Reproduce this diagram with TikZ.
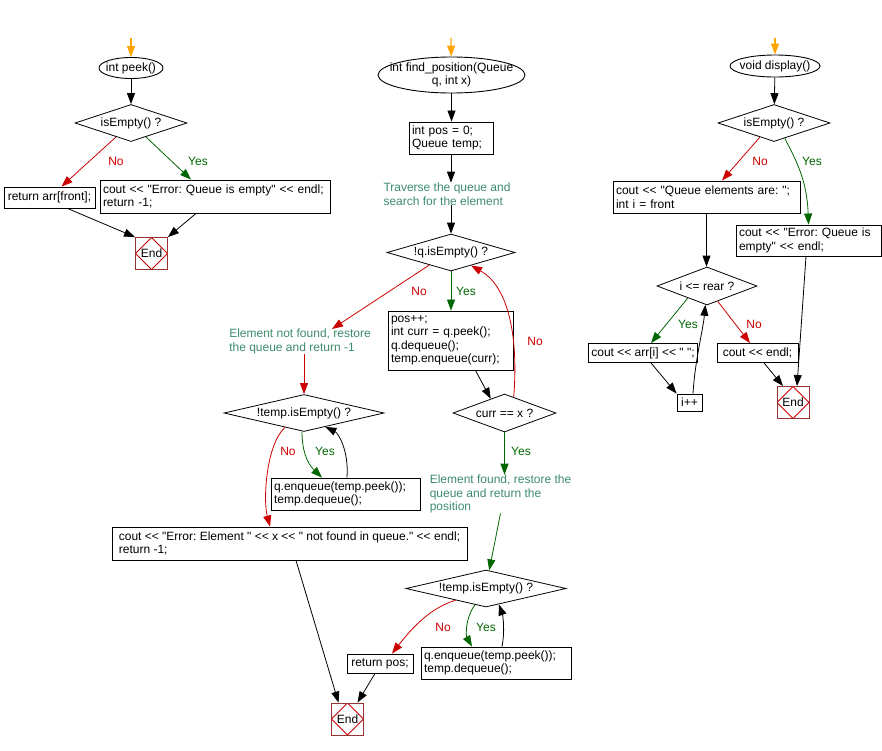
\documentclass[tikz,border=0pt]{standalone}
\usepackage{fontspec}
\setmainfont{Liberation Sans}[Ligatures=TeXOff]
\usepackage{xcolor}
\usepackage{tikz}
\usetikzlibrary{shapes.geometric, arrows.meta, positioning}
\frenchspacing

\definecolor{nored}{HTML}{CC0000}
\definecolor{yesgreen}{HTML}{006600}
\definecolor{notegreen}{HTML}{3D8B6B}
\definecolor{startorange}{HTML}{FFA500}
\definecolor{endred}{HTML}{993333}

\begin{document}
\begin{tikzpicture}[
    x=1pt, y=-1pt,
    font=\fontsize{12}{13.5}\selectfont,
    box/.style={rectangle, draw, align=left, inner sep=3pt, line width=0.9pt},
    start/.style={ellipse, draw, inner sep=0pt, align=center, line width=0.9pt},
    decision/.style={diamond, draw, aspect=4, inner sep=0pt, line width=0.8pt},
    note/.style={align=left, text=notegreen, inner sep=0pt},
    endbox/.style={rectangle, draw=endred, minimum size=32pt, inner sep=0pt, line width=0.9pt,
        path picture={\draw[nored, line width=0.8pt] (path picture bounding box.north) -- (path picture bounding box.east) -- (path picture bounding box.south) -- (path picture bounding box.west) -- cycle;}},
    arrow/.style={-{Triangle[length=11pt, width=8pt]}, line width=0.8pt},
    yes/.style={arrow, yesgreen},
    no/.style={arrow, nored},
    first/.style={arrow, startorange, line width=1.2pt},
    yeslbl/.style={text=yesgreen, inner sep=0pt},
    nolbl/.style={text=nored, inner sep=0pt}
]
\useasboundingbox (0,0) rectangle (882,750);

\coordinate (s1) at (131,38);
\node[start, inner xsep=-3pt, minimum width=64pt, minimum height=21pt] (peek) at (131,68) {int peek()};
\node[decision, minimum width=112pt, minimum height=37pt] (d1) at (131,123) {isEmpty() ?};
\node[box, minimum width=91pt, minimum height=21pt] (r1) at (49.5,197.5) {return arr[front];};
\node[box, text width=224pt, minimum height=33pt] (e1) at (215,196.5) {cout << "Error: Queue is empty" << endl;\\return -1;};
\node[endbox] (end1) at (151.5,253.5) {End};
\node[nolbl] (no1) at (116,161) {No};
\node[yeslbl] (yes1) at (198,161) {Yes};

\coordinate (s2) at (451,38);
\node[start, inner xsep=-16pt, minimum width=147pt, minimum height=36pt] (fp) at (451.5,75) {int find\_position(Queue\\q, int x)};
\node[box, text width=78pt, minimum height=32pt] (init) at (451,138) {int pos = 0;\\Queue temp;};
\node[note] (trav) at (447,194) {Traverse the queue and\\search for the element};
\node[decision, minimum width=128pt, minimum height=37pt] (d2) at (451,252.5) {!q.isEmpty() ?};
\node[note] (nf) at (300,341.5) {Element not found, restore\\the queue and return -1};
\node[box, text width=119pt, minimum height=59pt] (loop) at (450.5,340.5) {pos++;\\int curr = q.peek();\\q.dequeue();\\temp.enqueue(curr);};
\node[decision, aspect=3, minimum width=103pt, minimum height=38pt] (d3) at (504.5,413) {curr == x ?};
\node[note] (fnd) at (500.5,494) {Element found, restore the\\queue and return the\\position};
\node[decision, minimum width=160pt, minimum height=37pt] (d4) at (486,588.5) {!temp.isEmpty() ?};
\node[box, minimum width=66pt, minimum height=19pt] (rp) at (380,663.5) {return pos;};
\node[box, text width=144pt, minimum height=32pt] (rq2) at (496,663) {q.enqueue(temp.peek());\\temp.dequeue();};
\node[endbox] (end2) at (347.5,719) {End};
\node[nolbl] (no2) at (419,291) {No};
\node[yeslbl] (yes2) at (466,291) {Yes};
\node[nolbl] (no3) at (535,341) {No};
\node[yeslbl] (yes3) at (521,451) {Yes};
\node[nolbl] (no5) at (443,627) {No};
\node[yeslbl] (yes5) at (486,627) {Yes};

\node[decision, minimum width=160pt, minimum height=37pt] (d5) at (304,413) {!temp.isEmpty() ?};
\node[box, text width=143pt, minimum height=32pt] (rq1) at (345.5,494) {q.enqueue(temp.peek());\\temp.dequeue();};
\node[box, minimum width=355pt, minimum height=33pt] (err2) at (289.5,543.5) {cout << "Error: Element " << x << " not found in queue." << endl;\\return -1;};
\node[nolbl] (no4) at (288,451) {No};
\node[yeslbl] (yes4) at (325,451) {Yes};

\coordinate (s3) at (775,38);
\node[start, inner xsep=-6pt, minimum width=90pt, minimum height=22pt] (disp) at (775,66) {void display()};
\node[decision, minimum width=112pt, minimum height=37pt] (d6) at (774,123) {isEmpty() ?};
\node[box, text width=181pt, minimum height=32pt] (qe) at (706.5,197) {cout << "Queue elements are: ";\\int i = front};
\node[box, text width=139pt, minimum height=31pt] (e3) at (808.5,240.5) {cout << "Error: Queue is\\empty" << endl;};
\node[decision, aspect=3, minimum width=100pt, minimum height=38pt] (d7) at (707,286) {i <= rear ?};
\node[box, minimum width=108pt, minimum height=19pt] (pr) at (643,353) {cout << arr[i] << " ";};
\node[box, minimum width=81pt, minimum height=19pt] (en) at (757.5,353) {cout << endl;};
\node[box, minimum width=25pt, minimum height=17pt] (inc) at (689.5,402.5) {i++};
\node[endbox] (end3) at (793,402.5) {End};
\node[nolbl] (no6) at (760,161) {No};
\node[yeslbl] (yes6) at (812,161) {Yes};
\node[yeslbl] (yes7) at (688,324) {Yes};
\node[nolbl] (no7) at (754,324) {No};

\draw[first] (s1) -- (peek);
\draw[arrow] (peek) -- (d1);
\draw[no] (d1.223) -- ([xshift=12pt]r1.north);
\draw[yes] (d1.-43) -- ([xshift=-24pt]e1.north);
\draw[arrow] ([xshift=18pt]r1.south) -- (end1.north west);
\draw[arrow] ([xshift=-19pt]e1.south) -- (end1.north east);

\draw[first] (s2) -- (fp);
\draw[arrow] (fp.south) -- (fp.south |- init.north);
\draw[arrow] (init.south) -- (init.south |- trav.north);
\draw[arrow] (d2 |- trav.south) -- (d2.north);
\draw[no] (d2.210) -- ([xshift=32pt]nf.north);
\draw[yes] (d2.south) -- (d2.south |- loop.north);
\draw[arrow] ([xshift=25pt]loop.south) -- (d3.134);
\draw[no] (d3.60) .. controls (519,330) and (506,285) .. (d2.-33);
\draw[yes] (d3.south) -- (d3.south |- fnd.north);
\draw[yes] (fnd.south) -- (d4.80);
\draw[no] (d4.201) .. controls (430,608) and (412,628) .. ([xshift=12pt]rp.north);
\draw[yes] (d4.236) .. controls (465,618) and (466,636) .. ([xshift=-24pt]rq2.north);
\draw[arrow] ([xshift=6pt]rq2.north) .. controls (505,632) and (503,616) .. (d4.-51);
\draw[arrow] ([xshift=-5pt]rp.south) -- ([xshift=10pt]end2.north);
\draw[arrow] ([xshift=6.5pt]err2.south) -- ([xshift=-9pt]end2.north);

\draw[no] (d5 |- nf.south) -- (d5.north);
\draw[no] (d5.217) .. controls (266,445) and (263,500) .. ([xshift=-19.5pt]err2.north);
\draw[yes] ([xshift=-2pt]d5.south) .. controls (302,458) and (312,468) .. ([xshift=-23.5pt]rq1.north);
\draw[arrow] ([xshift=1.5pt]rq1.north) .. controls (349,450) and (338,433) .. (d5.-33);

\draw[first] (s3) -- (disp);
\draw[arrow] (disp) -- (d6);
\draw[no] (d6.225) -- ([xshift=15.5pt]qe.north);
\draw[yes] (d6.-55) .. controls (796,160) and (807,180) .. (e3.north);
\draw[arrow] (qe.south) -- (qe.south |- d7.north);
\draw[yes] (d7.212) -- ([xshift=8pt]pr.north);
\draw[no] (d7.-55) -- ([xshift=-7.5pt]en.north);
\draw[arrow] ([xshift=8pt]pr.south) -- (inc.north west);
\draw[arrow] ([xshift=3.5pt]inc.north) .. controls (695,360) and (703,330) .. (d7.-95);
\draw[arrow] ([xshift=6.5pt]en.south) -- ([xshift=-10pt]end3.north);
\draw[arrow] ([xshift=-2.5pt]e3.south) -- ([xshift=4pt]end3.north);

\end{tikzpicture}
\end{document}
